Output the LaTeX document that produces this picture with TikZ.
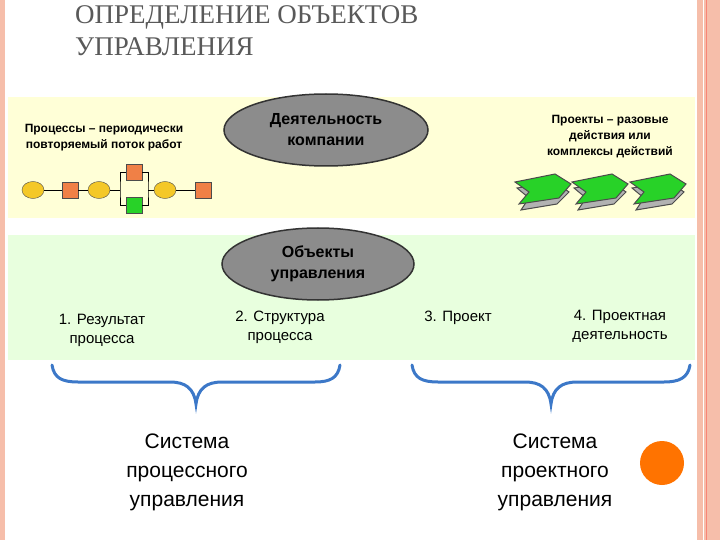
\documentclass[tikz,border=0pt]{standalone}
\usepackage{fontspec}
\setmainfont{Liberation Sans}
\newfontfamily\serifr{Liberation Serif}
\usetikzlibrary{shapes.geometric}
\definecolor{pinkb}{RGB}{246,190,170}
\definecolor{panelY}{RGB}{255,255,215}
\definecolor{panelG}{RGB}{232,255,222}
\definecolor{ovalG}{RGB}{140,140,140}
\definecolor{yel}{RGB}{244,200,40}
\definecolor{org}{RGB}{240,128,70}
\definecolor{grn}{RGB}{40,210,40}
\definecolor{brc}{RGB}{60,120,200}
\tikzset{
 oval/.style={ellipse, draw=black!80, line width=1.5pt, fill=ovalG, align=center, font=\bfseries\fontsize{16}{21}\selectfont},
 lbl/.style={align=center, font=\fontsize{15}{19}\selectfont},
 big/.style={align=center, font=\fontsize{21}{29}\selectfont},
 yo/.style={ellipse, draw=black!70, fill=yel, minimum width=22pt, minimum height=17pt, inner sep=0},
 sq/.style={draw=black!70, fill=org, minimum size=16pt, inner sep=0},
 brace/.style={draw=brc, line width=3pt, line cap=round},
 chev/.style={draw=black!70, fill=grn, line width=1pt},
 ttl/.style={anchor=base west, text=black!65, inner sep=0, font=\serifr\fontsize{27}{31}\selectfont}
}
\begin{document}
\begin{tikzpicture}[x=1pt,y=-1pt]
\useasboundingbox (0,0) rectangle (720,540);
\fill[white] (0,0) rectangle (720,540);
\fill[pinkb] (0,0) rectangle (5,540);
\fill[pinkb] (697,0) rectangle (720,540);
\draw[white, line width=1pt] (703,0) -- (703,540);
\draw[pinkb!70!red, line width=0.6pt] (706,0) -- (706,540);
\node[ttl] (title1) at (75,24) {ОПРЕДЕЛЕНИЕ ОБЪЕКТОВ};
\node[ttl] (title2) at (75,56) {УПРАВЛЕНИЯ};
\fill[panelY] (8,97) rectangle (695,218);
\fill[panelG] (8,235) rectangle (695,360);
\node[oval, minimum width=204pt, minimum height=72pt] (act) at (326,130) {Деятельность\\компании};
\node[oval, minimum width=192pt, minimum height=72pt] (obj) at (318,264) {Объекты\\управления};
\node[align=center, font=\bfseries\fontsize{12}{16}\selectfont] (proc) at (104,138) {Процессы -- периодически\\повторяемый поток работ};
\node[align=center, font=\bfseries\fontsize{12}{16}\selectfont] (proj) at (610,137) {Проекты -- разовые\\действия или\\комплексы действий};
% process chain
\node[yo] (e1) at (33,190) {};
\node[sq] (s1) at (70,190) {};
\node[yo] (e2) at (99,190) {};
\coordinate (bl) at (120,190);
\coordinate (br) at (148,190);
\node[sq] (s2) at (134,172) {};
\node[sq, fill=grn] (s3) at (134,205) {};
\node[yo] (e3) at (165,190) {};
\node[sq] (s4) at (203,190) {};
\draw (e1)--(s1) (s1)--(e2) (e2)--(bl) (br)--(e3) (e3)--(s4);
\draw (s2.west) -| (bl) |- (s3.west);
\draw (s2.east) -| (br) |- (s3.east);
% chevrons
\foreach \x in {515,572,630}{
 \draw[chev, fill=gray!60] (\x+2,188) -- (\x+40,182) -- (\x+54,192) -- (\x+42,204) -- (\x+6,210) -- (\x+14,198) -- cycle;
 \draw[chev] (\x,182) -- (\x+40,174) -- (\x+56,184) -- (\x+44,198) -- (\x+4,204) -- (\x+14,192) -- cycle;
}
\node[lbl] (r1) at (102,330) {1. Результат\\процесса};
\node[lbl] (r2) at (280,327) {2. Структура\\процесса};
\node[lbl] (r3) at (458,318) {3. Проект};
\node[lbl] (r4) at (620,326) {4. Проектная\\деятельность};
\draw[brace] (52,365) .. controls (54,378) and (62,382) .. (78,382) -- (170,382) .. controls (185,382) and (194,388) .. (196,404)
  .. controls (198,388) and (207,382) .. (222,382) -- (315,382) .. controls (330,382) and (338,378) .. (340,365);
\draw[brace] (412,365) .. controls (414,378) and (422,382) .. (438,382) -- (525,382) .. controls (540,382) and (549,388) .. (551,404)
  .. controls (553,388) and (562,382) .. (577,382) -- (664,382) .. controls (679,382) and (688,378) .. (690,365);
\node[big] (sys1) at (187,472) {Система\\процессного\\управления};
\node[big] (sys2) at (555,472) {Система\\проектного\\управления};
\fill[orange!90!red] (662,463) circle (22);
\end{tikzpicture}
\end{document}
